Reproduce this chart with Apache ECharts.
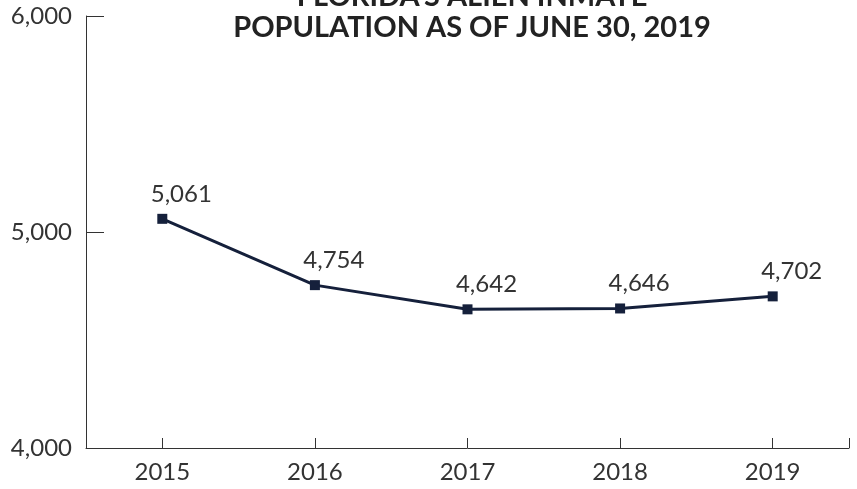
<!DOCTYPE html>
<html>
<head>
<meta charset="utf-8">
<script src="https://cdn.jsdelivr.net/npm/echarts@6/dist/echarts.min.js"></script>
<style>
  html,body{margin:0;padding:0;background:#fff;}
  #chart{width:857px;height:489px;}
</style>
</head>
<body>
<div id="chart"></div>
<script>
// data
const years = ['2015', '2016', '2017', '2018', '2019']
const inmates = [5061, 4754, 4642, 4646, 4702]
const titleLines = ["FLORIDA'S ALIEN INMATE", 'POPULATION AS OF JUNE 30, 2019']

const chart = echarts.init(document.getElementById('chart'))
const font = 'Lato'
const textColor = '#333'

let option = {
  animation: false,
  title: {
    text: titleLines.join('\n'),
    left: 467,
    top: -24,
    textAlign: 'center',
    textStyle: {
      fontFamily: font,
      fontWeight: 'bold',
      fontSize: 29,
      lineHeight: 31,
      color: '#222'
    }
  },
  grid: {
    left: 86,
    right: 8,
    top: 16,
    bottom: 41,
    containLabel: false
  },
  xAxis: [
    {
      type: 'category',
      data: years,
      boundaryGap: true,
      axisLine: { lineStyle: { color: '#333', width: 1 } },
      axisTick: { show: true, inside: true, length: 10, alignWithLabel: true, lineStyle: { color: '#333' } },
      axisLabel: { fontFamily: font, fontSize: 24, color: textColor, margin: 12 }
    },
    {
      // only here for the small tick at the right end of the axis
      type: 'value',
      position: 'bottom',
      min: 0,
      max: 1,
      interval: 1,
      axisLine: { show: false },
      axisTick: { show: true, inside: true, length: 10, lineStyle: { color: '#333' } },
      axisLabel: { show: false },
      splitLine: { show: false }
    }
  ],
  yAxis: {
    type: 'value',
    min: 4000,
    max: 6000,
    interval: 1000,
    splitLine: { show: false },
    axisLine: { show: true, lineStyle: { color: '#333', width: 1 } },
    axisTick: { show: true, inside: true, length: 18, lineStyle: { color: '#333' } },
    axisLabel: {
      fontFamily: font,
      fontSize: 24,
      color: textColor,
      margin: 14,
      formatter: v => v.toLocaleString('en-US')
    }
  },
  series: [
    {
      type: 'line',
      xAxisIndex: 0,
      data: inmates,
      symbol: 'rect',
      symbolSize: 10,
      lineStyle: { color: '#15203b', width: 3 },
      itemStyle: { color: '#15203b' },
      label: {
        show: true,
        position: 'top',
        distance: 8,
        offset: [19, 0],
        fontFamily: font,
        fontSize: 24,
        color: textColor,
        formatter: p => p.value.toLocaleString('en-US')
      }
    }
  ]
}
chart.setOption(option)
</script>
</body>
</html>
